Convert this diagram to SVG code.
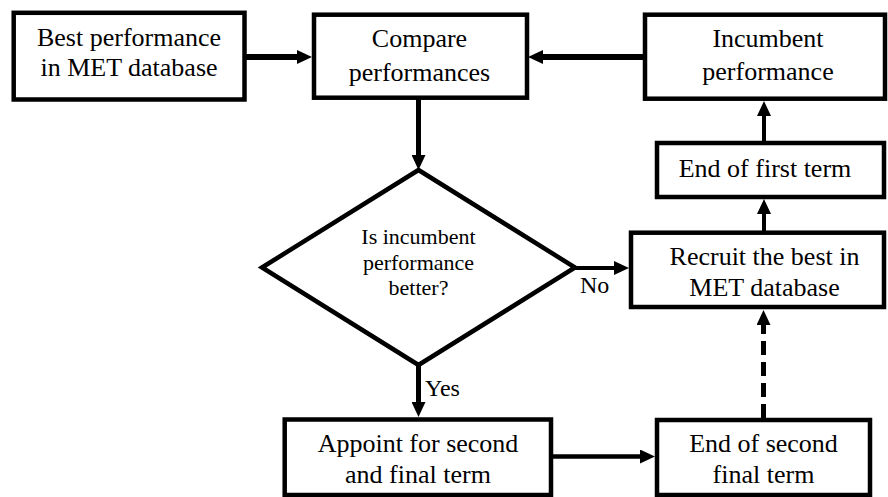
<svg xmlns="http://www.w3.org/2000/svg" width="888" height="497" viewBox="0 0 888 497">
  <style>
    .box { fill: #ffffff; stroke: #000000; stroke-width: 4.5; }
    .label { font-family: 'Liberation Serif', 'Tinos', 'Times New Roman', 'DejaVu Serif', serif; font-size: 26px; fill: #000000; text-anchor: middle; }
    .small { font-size: 22px; }
    .edge-label { font-family: 'Liberation Serif', 'Tinos', 'Times New Roman', 'DejaVu Serif', serif; font-size: 24px; fill: #000000; }
    .link { fill: none; stroke: #000000; marker-end: url(#arrow); }
    .dashed { stroke-dasharray: 14 7; }
  </style>
  <defs>
    <marker id="arrow" viewBox="0 0 15 14" markerWidth="15" markerHeight="14" refX="3" refY="7" orient="auto" markerUnits="userSpaceOnUse">
      <path d="M0,0 L15,7 L0,14 z" fill="#000000"/>
    </marker>
  </defs>

  <!-- connectors -->
  <g id="connectors">
    <path class="link" stroke-width="6" d="M246,57 L300,57"/>
    <path class="link" stroke-width="6" d="M643,57 L540,57"/>
    <path class="link" stroke-width="5" d="M418.5,99 L418.5,158"/>
    <path class="link" stroke-width="5" d="M418.5,365 L418.5,405"/>
    <path class="link" stroke-width="4" d="M575,268 L617,268"/>
    <path class="link" stroke-width="4.5" d="M551,456.5 L643,456.5"/>
    <path class="link dashed" stroke-width="5" d="M763.5,418 L763.5,322"/>
    <path class="link" stroke-width="4" d="M764,231 L764,211"/>
    <path class="link" stroke-width="4" d="M764,141 L764,113"/>
    <text class="edge-label" x="580" y="293">No</text>
    <text class="edge-label" x="425" y="396">Yes</text>
  </g>

  <!-- nodes -->
  <g id="best-in-database">
    <rect class="box" x="13.7" y="12.8" width="230.8" height="86.7"/>
    <text class="label" x="129" y="46">Best performance</text>
    <text class="label" x="129" y="75.5">in MET database</text>
  </g>

  <g id="compare">
    <rect class="box" x="314" y="14.7" width="213" height="83"/>
    <text class="label" x="419.5" y="47">Compare</text>
    <text class="label" x="419.5" y="80.5">performances</text>
  </g>

  <g id="incumbent">
    <rect class="box" x="645" y="14.7" width="240" height="84"/>
    <text class="label" x="768" y="47">Incumbent</text>
    <text class="label" x="768" y="80">performance</text>
  </g>

  <g id="end-first-term">
    <rect class="box" x="657" y="143" width="227" height="54"/>
    <text class="label" x="765" y="177">End of first term</text>
  </g>

  <g id="recruit">
    <rect class="box" x="631" y="232.7" width="253" height="74.3"/>
    <text class="label" x="764.5" y="265">Recruit the best in</text>
    <text class="label" x="764.5" y="295.5">MET database</text>
  </g>

  <g id="decision">
    <polygon class="box" points="262,267.5 418.5,170 575,267.5 418.5,365"/>
    <text class="label small" x="418.5" y="244">Is incumbent</text>
    <text class="label small" x="418.5" y="270">performance</text>
    <text class="label small" x="418.5" y="295">better?</text>
  </g>

  <g id="appoint">
    <rect class="box" x="284.7" y="419.5" width="266.3" height="75.5"/>
    <text class="label" x="418" y="452.3">Appoint for second</text>
    <text class="label" x="418" y="483.3">and final term</text>
  </g>

  <g id="end-second-term">
    <rect class="box" x="657" y="420" width="213" height="75"/>
    <text class="label" x="763.5" y="452.3">End of second</text>
    <text class="label" x="763.5" y="482.8">final term</text>
  </g>
</svg>
